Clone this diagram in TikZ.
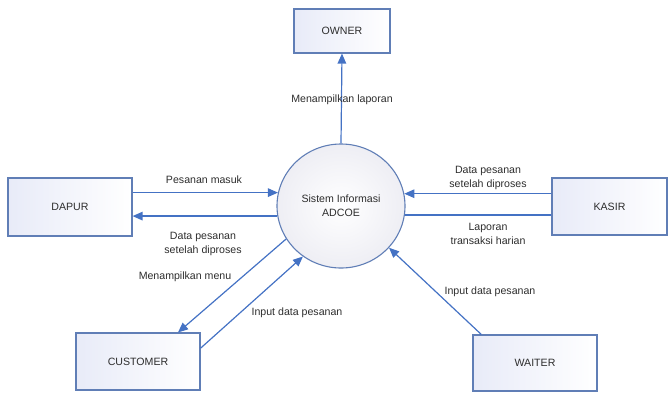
\documentclass[tikz,border=0pt]{standalone}
\usepackage{fontspec}
\setmainfont{Liberation Sans}
\usetikzlibrary{arrows.meta,shapes.geometric}

\definecolor{flowblue}{RGB}{68,114,196}
\definecolor{edgeblue}{RGB}{96,126,182}
\definecolor{lavender}{RGB}{232,235,248}
\definecolor{mist}{RGB}{238,238,244}
\definecolor{txt}{RGB}{45,45,45}

\begin{document}
\begin{tikzpicture}[x=1pt,y=-1pt,
  every node/.style={text=txt, font=\fontsize{10.6}{14}\selectfont},
  entity/.style={rectangle, draw=edgeblue, line width=1.1pt,
    left color=lavender, right color=white, inner sep=0pt},
  process/.style={ellipse, draw=edgeblue, line width=1.1pt,
    inner color=white, outer color=mist,
    minimum width=128pt, minimum height=124pt, inner sep=0pt, align=center},
  flow/.style={draw=flowblue, line width=1.2pt, -{Triangle[length=10pt,width=8.5pt]}},
  plain/.style={draw=flowblue, line width=1.2pt},
  lbl/.style={align=center, inner sep=0pt}]

\useasboundingbox (0,0) rectangle (669,392);

% external entities
\node[entity, minimum width=96pt, minimum height=44pt] (owner) at (342,31) {OWNER};
\node[entity, minimum width=124pt, minimum height=58pt] (dapur) at (70,207) {DAPUR};
\node[entity, minimum width=115pt, minimum height=57pt] (kasir) at (609.5,206.5) {KASIR};
\node[entity, minimum width=124pt, minimum height=57pt] (customer) at (138,361.5) {CUSTOMER};
\node[entity, minimum width=124pt, minimum height=56pt] (waiter) at (535,363) {WAITER};

% central process
\node[process] (sys) at (341,206) {Sistem Informasi\\ADCOE};

% data flows
\draw[flow] (sys.north) -- (owner.south);
\draw[flow] (dapur.east |- sys.168.3) -- (sys.168.3);
\draw[flow] (sys.189) -- (dapur.east |- sys.189);
\draw[flow] (kasir.west |- sys.11.7) -- (sys.11.7);
\draw[plain] (sys.352.8) -- (kasir.west |- sys.352.8);
\draw[flow] (sys.211.3) -- (customer.36);
\draw[flow] (customer.12) -- (sys.233.8);
\draw[flow] (waiter.152) -- (sys.319);

% flow labels
\node[lbl] (l1) at (342,100) {Menampilkan laporan};
\node[lbl] (l2) at (204,180) {Pesanan masuk};
\node[lbl] (l3) at (203,243.5) {Data pesanan\\setelah diproses};
\node[lbl] (l4) at (488,178) {Data pesanan\\setelah diproses};
\node[lbl] (l5) at (488,234) {Laporan\\transaksi harian};
\node[lbl] (l6) at (185,277) {Menampilkan menu};
\node[lbl] (l7) at (297,313) {Input data pesanan};
\node[lbl] (l8) at (490,292) {Input data pesanan};
\end{tikzpicture}
\end{document}
